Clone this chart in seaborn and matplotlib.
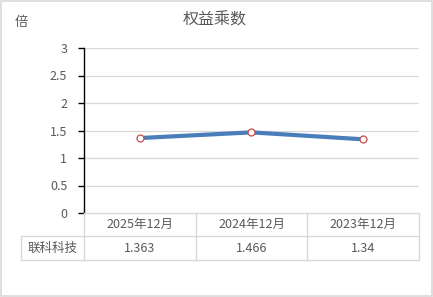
import matplotlib
matplotlib.use("Agg")
import matplotlib.pyplot as plt
import seaborn as sns
import pandas as pd
from matplotlib.lines import Line2D
from matplotlib.patches import Rectangle

categories = ["2025年12月", "2024年12月", "2023年12月"]
values = [1.363, 1.466, 1.34]
value_labels = ["1.363", "1.466", "1.34"]
series_name = "联科科技"
title = "权益乘数"
unit = "倍"
yticks = [0, 0.5, 1, 1.5, 2, 2.5, 3]
ytick_labels = ["0", "0.5", "1", "1.5", "2", "2.5", "3"]

sns.set_style("white")
plt.rcParams["font.family"] = ["Noto Sans CJK SC", "DejaVu Sans"]

W, H = 433, 297
fig = plt.figure(figsize=(W / 100, H / 100), dpi=100)

def fx(x):
    return x / W

def fy(y):
    return 1 - y / H

L, R, T, B = 84, 419, 48, 213
ax = fig.add_axes([fx(L), fy(B), fx(R) - fx(L), fy(T) - fy(B)])

df = pd.DataFrame({"cat": categories, "val": values})
sns.lineplot(data=df, x="cat", y="val", ax=ax, color="#4a7ebb", linewidth=3.0,
             marker="o", markersize=5, markerfacecolor="white",
             markeredgecolor="#c0504d", markeredgewidth=0.9, sort=False)

ax.set_xlim(-0.5, 2.5)
ax.set_ylim(0, 3)
ax.set_yticks(yticks)
ax.set_yticklabels(ytick_labels, color="#595959", fontsize=9)
ax.set_xticks([])
ax.set_xlabel("")
ax.set_ylabel("")
for y in yticks[1:]:
    ax.axhline(y, color="#d9d9d9", linewidth=0.9, zorder=0)
for s in ["top", "right", "bottom"]:
    ax.spines[s].set_visible(False)
ax.spines["left"].set_color("black")
ax.spines["left"].set_linewidth(1.0)
ax.tick_params(axis="y", length=4, width=1.0, color="black", direction="out", pad=8, left=True)

# table
gc = "#d9d9d9"
col_x = [84, 195.7, 307.3, 419]
r0, r1, r2 = 213, 236, 260
def hline(x0, x1, y):
    fig.add_artist(Line2D([fx(x0), fx(x1)], [fy(y), fy(y)], color=gc, linewidth=1.0))
def vline(x, y0, y1):
    fig.add_artist(Line2D([fx(x), fx(x)], [fy(y0), fy(y1)], color=gc, linewidth=1.0))
hline(84, 419, r0)
hline(21, 419, r1)
hline(21, 419, r2)
vline(21, r1, r2)
for x in col_x:
    vline(x, r0, r2)
for i, c in enumerate(categories):
    cx = (col_x[i] + col_x[i + 1]) / 2
    fig.text(fx(cx), fy((r0 + r1) / 2), c, ha="center", va="center", fontsize=9, color="#595959")
    fig.text(fx(cx), fy((r1 + r2) / 2), value_labels[i], ha="center", va="center", fontsize=9, color="#595959")
fig.text(fx(52.5), fy((r1 + r2) / 2), series_name, ha="center", va="center", fontsize=9, color="#595959")

fig.text(fx(215), fy(20), title, ha="center", va="center", fontsize=11.5, color="#595959")
fig.text(fx(21), fy(22), unit, ha="center", va="center", fontsize=9.5, color="#595959")

fig.add_artist(Rectangle((0.0015, 0.002), 0.997, 0.996, transform=fig.transFigure,
                         fill=False, edgecolor="#d9d9d9", linewidth=1.2))

fig.savefig("out.png", dpi=100)
